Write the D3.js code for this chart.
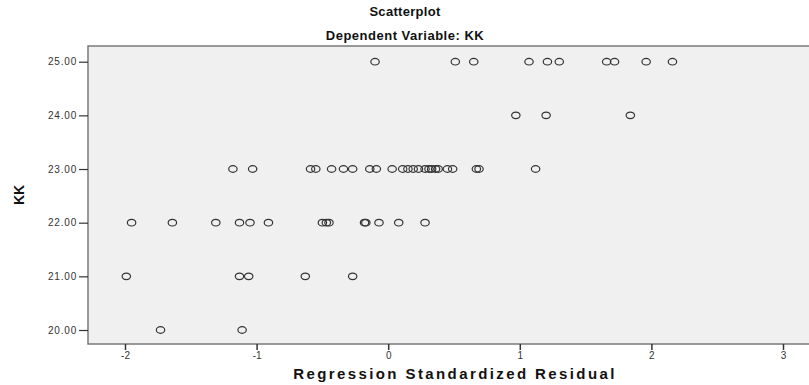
<!DOCTYPE html>
<html>
<head>
<meta charset="utf-8">
<script src="https://cdn.jsdelivr.net/npm/d3@7"></script>
<style>
  body { margin: 0; background: #fff; }
  text { font-family: "Liberation Sans", Arial, sans-serif; }
</style>
</head>
<body>
<script>
// scatter plot - residuals vs KK
var w = 809;
var h = 385;

// data: residual (x) for each KK level (y)
var kk25 = [-0.10, 0.51, 0.65, 1.07, 1.21, 1.30, 1.66, 1.72, 1.96, 2.16];
var kk24 = [0.97, 1.20, 1.84];
var kk23 = [-1.18, -1.03, -0.59, -0.55, -0.43, -0.34, -0.27, -0.14, -0.09, 0.03,
            0.11, 0.15, 0.19, 0.23, 0.28, 0.31, 0.33, 0.36, 0.38, 0.45, 0.49,
            0.67, 0.69, 1.12];
var kk22 = [-1.95, -1.64, -1.31, -1.13, -1.05, -0.91, -0.50, -0.47, -0.45,
            -0.18, -0.17, -0.07, 0.08, 0.28];
var kk21 = [-1.99, -1.13, -1.06, -0.63, -0.27];
var kk20 = [-1.73, -1.11];

var yTicks = [20, 21, 22, 23, 24, 25];
var xTicks = [-2, -1, 0, 1, 2, 3];

// flatten into points
var points = [];
[[25, kk25], [24, kk24], [23, kk23], [22, kk22], [21, kk21], [20, kk20]]
  .forEach(function(row){
    row[1].forEach(function(r){ points.push({res: r, kk: row[0]}); });
  });

// plot frame (window.top is reserved, so use other names)
var plotLeft = 88, plotTop = 46, plotBottom = 344;

var x = d3.scaleLinear().domain([-2, 3]).range([125, 783]);
var y = d3.scaleLinear().domain([20, 25]).range([330, 61.7]);

var svg = d3.select("body").append("svg")
  .attr("width", w)
  .attr("height", h);

// titles
svg.append("text")
  .attr("x", 405).attr("y", 16)
  .attr("text-anchor", "middle")
  .attr("font-size", "13px")
  .attr("font-weight", "bold")
  .attr("letter-spacing", "0.3px")
  .attr("fill", "#111")
  .text("Scatterplot");

svg.append("text")
  .attr("x", 405).attr("y", 40)
  .attr("text-anchor", "middle")
  .attr("font-size", "13px")
  .attr("font-weight", "bold")
  .attr("letter-spacing", "0.5px")
  .attr("fill", "#111")
  .text("Dependent Variable: KK");

// plot background
svg.append("rect")
  .attr("x", plotLeft).attr("y", plotTop)
  .attr("width", w - plotLeft + 10)
  .attr("height", plotBottom - plotTop)
  .attr("fill", "#f0f0f0")
  .attr("stroke", "#7a7a7a")
  .attr("stroke-width", 1.5);

// y axis
var yAxis = svg.append("g")
  .attr("transform", "translate(" + plotLeft + ",0)")
  .call(d3.axisLeft(y).tickValues(yTicks).tickFormat(d3.format(".2f"))
        .tickSize(9).tickPadding(2));
yAxis.select(".domain").remove();
yAxis.selectAll("line").attr("stroke", "#333").attr("stroke-width", 1.2);
yAxis.selectAll("text")
  .attr("font-size", "10px")
  .attr("letter-spacing", "0.8px")
  .attr("fill", "#333")
  .attr("font-family", "Liberation Sans, Arial, sans-serif");

// x axis - plain hyphen for negatives like the original
var xAxis = svg.append("g")
  .attr("transform", "translate(0," + plotBottom + ")")
  .call(d3.axisBottom(x).tickValues(xTicks).tickFormat(function(d){ return String(d); })
        .tickSize(6).tickPadding(2));
xAxis.select(".domain").remove();
xAxis.selectAll("line").attr("stroke", "#333").attr("stroke-width", 1.5);
xAxis.selectAll("text")
  .attr("font-size", "10px")
  .attr("fill", "#333")
  .attr("font-family", "Liberation Sans, Arial, sans-serif");

// axis titles
svg.append("text")
  .attr("x", 455).attr("y", 379)
  .attr("text-anchor", "middle")
  .attr("font-size", "15px")
  .attr("font-weight", "bold")
  .attr("letter-spacing", "2.4px")
  .attr("fill", "#111")
  .text("Regression Standardized Residual");

svg.append("text")
  .attr("transform", "translate(24,195) rotate(-90)")
  .attr("text-anchor", "middle")
  .attr("font-size", "14px")
  .attr("font-weight", "bold")
  .attr("fill", "#111")
  .text("KK");

// add dots
svg.selectAll("ellipse.dot")
  .data(points)
  .enter()
  .append("ellipse")
  .attr("class", "dot")
  .attr("cx", function(d){ return x(d.res); })
  .attr("cy", function(d){ return y(d.kk); })
  .attr("rx", 4.2)
  .attr("ry", 3.3)
  .attr("fill", "none")
  .attr("stroke", "#333")
  .attr("stroke-width", 1.2);
</script>
</body>
</html>
